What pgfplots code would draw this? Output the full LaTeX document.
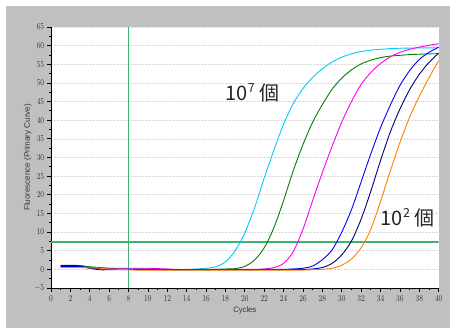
\documentclass[border=0pt]{standalone}
\usepackage{fontspec}
\setmainfont{Liberation Sans}
\newfontfamily\cjk{Noto Sans CJK JP}
\usepackage{pgfplots}
\pgfplotsset{compat=1.18}
\definecolor{bggray}{RGB}{192,192,192}
\definecolor{ccyan}{RGB}{0,204,255}
\definecolor{cgreen}{RGB}{0,128,0}
\definecolor{cmag}{RGB}{255,0,240}
\definecolor{cblue}{RGB}{0,0,255}
\definecolor{cnavy}{RGB}{0,0,128}
\definecolor{corange}{RGB}{255,128,0}
\definecolor{thr}{RGB}{60,179,113}
\begin{document}
\begin{tikzpicture}
\fill[white] (0pt,0pt) rectangle (454pt,328pt);
\fill[bggray] (6pt,0pt) rectangle (450pt,322pt);
\begin{axis}[
  at={(51pt,40pt)}, anchor=south west, scale only axis,
  width=387.7pt, height=261pt,
  xmin=0, xmax=40, ymin=-5, ymax=65,
  axis background/.style={fill=white},
  axis x line*=bottom, axis y line*=left,
  axis line style={-, black, line width=0.8pt},
  xtick={0,2,...,40}, minor x tick num=1,
  ytick={-5,0,...,65}, minor y tick num=1,
  tick align=outside,
  major tick length=4pt, minor tick length=2.5pt,
  tick style={black, line width=0.8pt},
  ymajorgrids, grid style={densely dotted, black!14, line width=0.6pt},
  tick label style={font=\fontsize{9}{10}\selectfont, text=black!80, xscale=0.8},
  xlabel={Cycles}, ylabel={Fluorescence (Primary Curve)},
  label style={font=\fontsize{8}{9}\selectfont, text=black!80},
  x label style={xscale=0.95},
  xlabel shift=-1pt, ylabel shift=-3pt,
  clip=true,
]
\addplot[thr, line width=1.8pt] coordinates {(8,-5) (8,65)};
\addplot[thr, line width=1.8pt] coordinates {(0,7.3) (40,7.3)};
% cyan
\addplot[ccyan, line width=0.9pt, smooth] coordinates {
(1,0.9)(2,0.9)(3,0.8)(4,0.5)(5,0.3)(6,0.2)(7,0.2)(8,0.1)(9,0.1)(10,0.0)
(11,0.0)(12,-0.1)(13,-0.1)(14,0.0)(15,0.1)(16,0.3)(17,0.7)(18,2.0)(19,5.0)(20,9.8)
(21,16.5)(22,24.5)(23,32.0)(24,39.0)(25,44.5)(26,48.5)(27,51.5)(28,53.8)(29,55.6)(30,56.9)
(31,57.8)(32,58.4)(33,58.8)(34,59.0)(35,59.2)(36,59.3)(37,59.35)(38,59.4)(39,59.4)(40,59.45)};
% green
\addplot[cgreen, line width=0.9pt, smooth] coordinates {
(1,1.1)(2,1.1)(3,1.0)(4,0.7)(5,0.5)(6,0.3)(7,0.2)(8,0.1)(9,0.1)(10,0.1)
(11,0.0)(12,0.0)(13,-0.1)(14,-0.1)(15,0.0)(16,0.0)(17,0.0)(18,0.1)(19,0.2)(20,0.8)
(21,2.5)(22,5.8)(23,11.2)(24,18.5)(25,26.5)(26,33.5)(27,39.5)(28,44.2)(29,48.3)(30,51.3)
(31,53.5)(32,55.1)(33,56.1)(34,56.8)(35,57.2)(36,57.4)(37,57.6)(38,57.7)(39,57.8)(40,57.85)};
% magenta
\addplot[cmag, line width=0.9pt, smooth] coordinates {
(1,0.6)(2,0.6)(3,0.5)(4,0.4)(5,0.3)(6,0.3)(7,0.3)(8,0.3)(9,0.3)(10,0.3)
(11,0.2)(12,0.1)(13,0.0)(14,-0.1)(15,-0.1)(16,-0.1)(17,0.0)(18,0.0)(19,0.0)(20,0.0)
(21,0.0)(22,0.1)(23,0.5)(24,1.6)(25,4.8)(26,10.8)(27,18.5)(28,26.0)(29,33.0)(30,39.5)
(31,45.0)(32,49.6)(33,52.8)(34,55.2)(35,57.0)(36,58.2)(37,59.0)(38,59.6)(39,60.1)(40,60.5)};
% blue
\addplot[cblue, line width=0.9pt, smooth] coordinates {
(1,0.8)(2,0.8)(3,0.7)(4,0.4)(5,0.2)(6,0.1)(7,0.0)(8,0.0)(9,0.0)(10,0.0)
(11,0.0)(12,-0.1)(13,-0.1)(14,-0.1)(15,-0.1)(16,-0.1)(17,-0.1)(18,-0.1)(19,-0.1)(20,-0.1)
(21,-0.1)(22,0.0)(23,0.0)(24,0.0)(25,0.1)(26,0.3)(27,0.9)(28,2.6)(29,5.2)(30,10.0)
(31,16.0)(32,23.5)(33,31.0)(34,38.0)(35,44.0)(36,49.3)(37,53.3)(38,56.3)(39,58.2)(40,59.6)};
% navy
\addplot[cnavy, line width=0.9pt, smooth] coordinates {
(1,1.0)(2,1.0)(3,0.9)(4,0.3)(5,-0.1)(6,-0.1)(7,-0.1)(8,-0.1)(9,-0.1)(10,-0.1)
(11,-0.1)(12,-0.1)(13,-0.1)(14,-0.1)(15,-0.1)(16,-0.1)(17,-0.1)(18,-0.1)(19,-0.1)(20,-0.1)
(21,-0.1)(22,-0.1)(23,-0.1)(24,-0.1)(25,0.0)(26,0.0)(27,0.1)(28,0.5)(29,1.6)(30,3.9)
(31,7.6)(32,13.5)(33,21.0)(34,29.2)(35,36.8)(36,43.0)(37,48.2)(38,52.3)(39,55.5)(40,58.0)};
% orange
\addplot[corange, line width=0.9pt, smooth] coordinates {
(1,0.5)(2,0.5)(3,0.5)(4,0.4)(5,0.3)(6,0.1)(7,0.0)(8,-0.1)(9,-0.2)(10,-0.2)
(11,-0.2)(12,-0.2)(13,-0.2)(14,-0.2)(15,-0.2)(16,-0.2)(17,-0.2)(18,-0.2)(19,-0.2)(20,-0.2)
(21,-0.2)(22,-0.2)(23,-0.2)(24,-0.2)(25,-0.2)(26,-0.2)(27,-0.1)(28,0.0)(29,0.3)(30,1.1)
(31,2.8)(32,5.8)(33,10.8)(34,18.2)(35,26.3)(36,34.0)(37,40.8)(38,46.4)(39,51.4)(40,56.0)};
\node[font=\cjk\fontsize{20}{21}\selectfont, text=black!85] at (axis cs:20.8,47.3)
  {10\raisebox{0.42em}{\fontsize{12.5}{13}\selectfont 7} 個};
\node[font=\cjk\fontsize{20}{21}\selectfont, text=black!85] at (axis cs:36.8,13.9)
  {10\raisebox{0.42em}{\fontsize{12.5}{13}\selectfont 2} 個};
\end{axis}
\pgfresetboundingbox
\path[use as bounding box] (0pt,0pt) rectangle (454pt,328pt);
\end{tikzpicture}
\end{document}
